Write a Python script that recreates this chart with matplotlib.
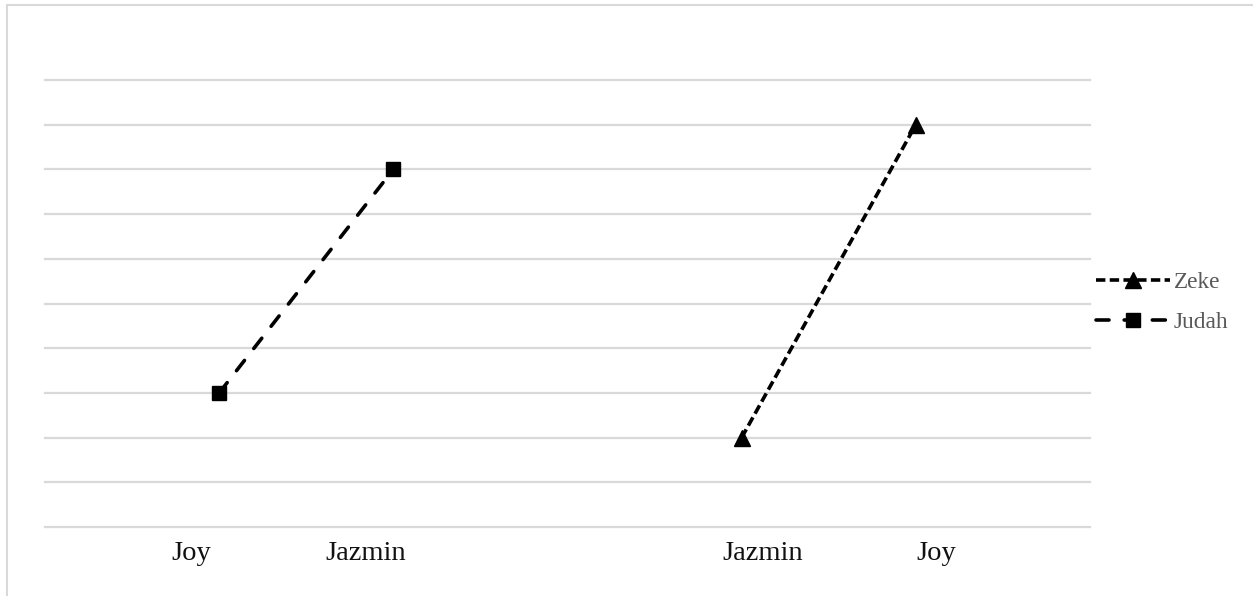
import matplotlib
matplotlib.use("Agg")
import matplotlib.pyplot as plt
from matplotlib.patches import Rectangle
from matplotlib.lines import Line2D

# Data
judah_x = [1, 2]
judah_y = [3, 8]
zeke_x = [4, 5]
zeke_y = [2, 9]
label_pos = [0.84, 1.84, 4.12, 5.12]
label_text = ["Joy", "Jazmin", "Jazmin", "Joy"]
series_names = ["Zeke", "Judah"]

plt.rcParams['font.family'] = ['Liberation Serif', 'DejaVu Serif']

W, H = 1253, 596
fig = plt.figure(figsize=(W / 100, H / 100), dpi=100)

# outer chart border
fig.patches.append(Rectangle((7 / W, -0.05), 1.2, 1 - 5 / H + 0.05, transform=fig.transFigure,
                             fill=False, edgecolor='#d9d9d9', lw=1.5, zorder=0))

left, right = 45 / W, 1090 / W
bottom, top = 1 - 527 / H, 1 - 80 / H
ax = fig.add_axes([left, bottom, right - left, top - bottom])
ax.set_xlim(0, 6)
ax.set_ylim(0, 10)
for s in ax.spines.values():
    s.set_visible(False)
ax.set_yticks(range(0, 11))
ax.yaxis.grid(True, color='#d9d9d9', lw=1.6)
for gl in ax.get_ygridlines():
    gl.set_clip_on(False)
ax.set_axisbelow(True)
ax.tick_params(axis='y', length=0, labelleft=False)
ax.set_xticks(label_pos)
ax.set_xticklabels(label_text, fontsize=20.5, color='#111111')
ax.tick_params(axis='x', length=0, pad=10)

lw = 2.6
l_judah, = ax.plot(judah_x, judah_y, color='black', lw=lw, marker='s', ms=10.5,
                   dashes=(3.6, 4.2), dash_capstyle='round', clip_on=False)
l_zeke, = ax.plot(zeke_x, zeke_y, color='black', lw=lw, marker='^', ms=11,
                  dashes=(2.6, 1.2), clip_on=False)

h_zeke = Line2D([], [], color='black', lw=lw, marker='^', ms=11, dashes=(2.6, 1.2))
h_judah = Line2D([], [], color='black', lw=lw, marker='s', ms=10, dashes=(3.6, 4.2),
                 dash_capstyle='round')
leg = fig.legend([h_zeke, h_judah], series_names, loc='center left',
                 bbox_to_anchor=(1091 / W, 1 - 302.5 / H), frameon=False,
                 fontsize=16.8, handlelength=3.2, handletextpad=0.15,
                 labelspacing=0.8, borderaxespad=0, borderpad=0.2)
for t in leg.get_texts():
    t.set_color('#595959')

fig.savefig('out.png', dpi=100)
